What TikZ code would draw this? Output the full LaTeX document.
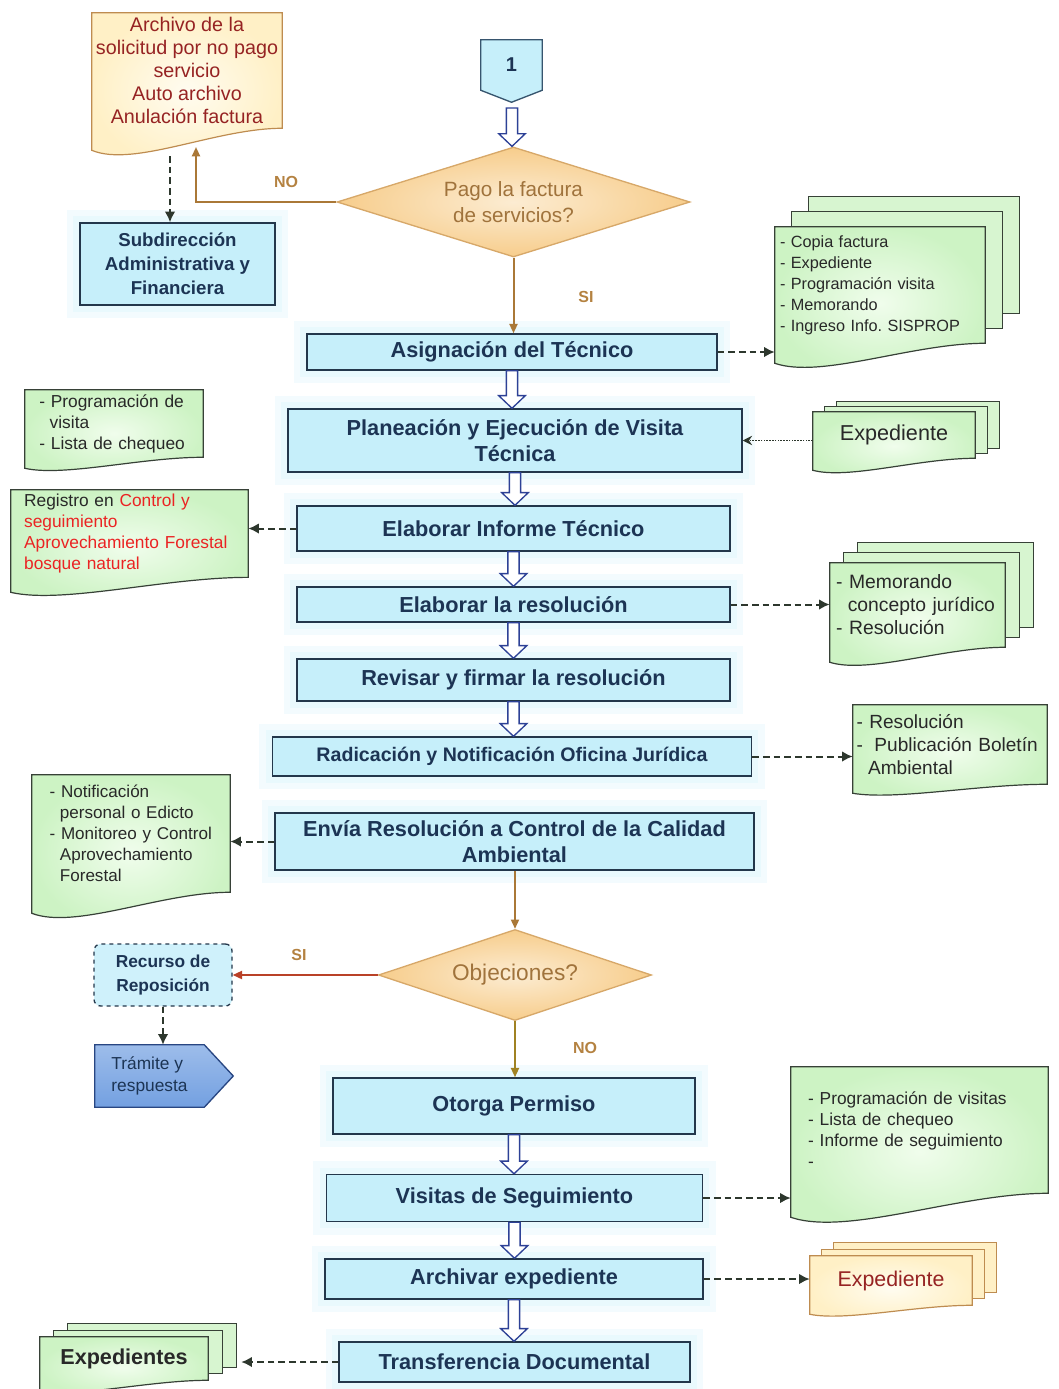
\documentclass[tikz,border=0pt]{standalone}
\usepackage{fontspec}
\setmainfont{Liberation Sans}
\usetikzlibrary{calc}
\usetikzlibrary{positioning}
\usetikzlibrary{arrows.meta}
\usetikzlibrary{shapes.geometric}
\usetikzlibrary{backgrounds}

\definecolor{procfill}{RGB}{198,239,250}
\definecolor{procline}{RGB}{35,55,75}
\definecolor{proctext}{RGB}{28,52,84}
\definecolor{procglow}{RGB}{228,247,252}
\definecolor{docgrn}{RGB}{205,243,196}
\definecolor{docgrnin}{RGB}{240,253,236}
\definecolor{docline}{RGB}{55,65,55}
\definecolor{doctxt}{RGB}{40,40,40}
\definecolor{docyel}{RGB}{255,240,198}
\definecolor{docyelin}{RGB}{255,252,240}
\definecolor{docbrown}{RGB}{190,140,80}
\definecolor{docred}{RGB}{150,35,35}
\definecolor{decfill}{RGB}{247,205,140}
\definecolor{decin}{RGB}{252,236,210}
\definecolor{decline}{RGB}{215,168,105}
\definecolor{dectext}{RGB}{160,115,60}
\definecolor{lblbrown}{RGB}{180,130,65}
\definecolor{arrbrown}{RGB}{170,120,55}
\definecolor{arrred}{RGB}{185,65,40}
\definecolor{arrolive}{RGB}{160,130,35}
\definecolor{hollowblue}{RGB}{45,65,150}
\definecolor{dashgray}{RGB}{45,55,45}
\definecolor{tramfill}{RGB}{115,160,225}
\definecolor{tramline}{RGB}{40,70,130}
\definecolor{txtred}{RGB}{235,35,35}
\definecolor{connline}{RGB}{55,85,110}

\tikzset{
  boxsize/.style 2 args={minimum width=#1*0.75pt, minimum height=#2*0.75pt},
  proc/.style={draw=procline, line width=1.1pt, fill=procfill, text=proctext,
    font=\bfseries\fontsize{16.3}{19}\selectfont, align=center, inner sep=2pt,
    preaction={draw=procglow!45, line width=20pt},
    preaction={draw=procglow!80, line width=10pt}},
  decision/.style={diamond, draw=decline, line width=1pt, inner sep=0pt,
    inner color=decin, outer color=decfill, text=dectext, align=center},
  doctext/.style={inner sep=3pt, align=left, text=doctxt,
    font=\fontsize{13}{15.75}\selectfont},
  docgreen/.style={draw=docline, line width=0.9pt, inner color=docgrnin, outer color=docgrn},
  docyellow/.style={draw=docbrown, line width=0.9pt, inner color=docyelin, outer color=docyel},
  backgreen/.style={draw=docline, line width=0.9pt, fill=docgrn!80!white},
  backyellow/.style={draw=docbrown, line width=0.9pt, fill=docyel},
  hollow/.style={draw=hollowblue, fill=white, line width=1pt},
  dasharrow/.style={draw=dashgray, line width=1.5pt, dash pattern=on 5pt off 3pt,
    -{Latex[length=8pt,width=8pt]}},
  dotarrow/.style={draw=dashgray, line width=1.1pt, densely dotted, -{Stealth[length=7pt,width=7pt]}},
  decarrow/.style={line width=1.5pt, -{Triangle[length=7pt,width=6pt]}},
  lbl/.style={font=\bfseries\fontsize{12}{14}\selectfont, inner sep=1pt},
}

% document page with wavy bottom round a node
\newcommand{\docpage}[3]{%
  \path[#3] (#1.north west) -- (#1.north east) -- (#1.south east)
    .. controls ($(#1.south east)!0.35!(#1.south west)$)
    and ($(#1.south east)!0.78!(#1.south west)+(0,1.8*#2)$)
    .. ($(#1.south west)+(0,#2)$) -- cycle;}
% two pages behind a document
\newcommand{\backpages}[4]{%
  \foreach \k in {2,1}{%
    \path[#4] ($(#1.north west)+(\k*#2,-\k*#3)$) rectangle ($(#1.south east)+(\k*#2,-\k*#3)$);}}
% hollow block arrow between two anchors
\newcommand{\hollowarrow}[2]{%
  \draw[hollow] let \p1=(#1), \p2=(#2) in
    (\x1-4.2pt,\y1) -- (\x1-4.2pt,\y2+9.5pt) -- (\x1-10pt,\y2+9.5pt) -- (\x1,\y2)
    -- (\x1+10pt,\y2+9.5pt) -- (\x1+4.2pt,\y2+9.5pt) -- (\x1+4.2pt,\y1) -- cycle;}

\begin{document}
\frenchspacing
\begin{tikzpicture}[%
  >={Stealth[scale=1.0]},
  x=0.75pt, y=-0.75pt,
]
  \useasboundingbox (0,0) rectangle (1058,1389);

  % top part
  \node[boxsize={61}{50}, text=proctext, font=\bfseries\fontsize{15}{18}\selectfont] (conn1) at (511.5,65) {1};
  \coordinate (conn1out) at (512,108);

  \node[decision, aspect=3.3, boxsize={353}{110}, font=\fontsize{15.5}{19}\selectfont] (dec1) at (513.5,202) {Pago la factura\\de servicios?};

  \node[doctext, align=center, text=docred, boxsize={188}{115},
    font=\fontsize{14.8}{17.3}\selectfont] (arch) at (187,70.5)
    {Archivo de la\\solicitud por no pago\\servicio\\Auto archivo\\Anulación factura};
  \coordinate (archin) at (196,147);
  \coordinate (archout) at (170,156);

  \node[proc, boxsize={195}{82}, font=\bfseries\fontsize{14}{18}\selectfont] (sub) at (177.5,264)
    {Subdirección\\Administrativa y\\Financiera};

  \node[proc, boxsize={410}{36}] (asig) at (512,352) {Asignación del Técnico};

  \node[doctext, text width=150pt, boxsize={210}{116}, font=\fontsize{12.2}{15.75}\selectfont] (copia) at (880,285)
    {- Copia factura\\- Expediente\\- Programación visita\\- Memorando\\- Ingreso Info. SISPROP};

  \node[proc, boxsize={454}{63}] (plan) at (515,440.5) {Planeación y Ejecución de Visita\\Técnica};

  \node[doctext, align=center, boxsize={162}{46}, font=\fontsize{16.2}{19}\selectfont] (expA) at (894,435) {Expediente};

  \node[doctext, text width=112pt, boxsize={178}{67}] (prog) at (114,423.5)
    {- Programación de\\\hspace*{0.6em}visita\\- Lista de chequeo};

  % middle part
  \node[proc, boxsize={433}{45}] (inf) at (513.5,528.5) {Elaborar Informe Técnico};

  \node[doctext, text width=158pt, boxsize={237}{87}] (reg) at (129.5,533.5)
    {Registro en \textcolor{txtred}{Control y}\\\textcolor{txtred}{seguimiento}\\
     \textcolor{txtred}{Aprovechamiento Forestal}\\\textcolor{txtred}{bosque natural}};

  \node[proc, boxsize={433}{35}] (res) at (513.5,604.5) {Elaborar la resolución};

  \node[doctext, text width=122pt, boxsize={175}{84}, font=\fontsize{14.5}{17.3}\selectfont] (memo) at (917.5,605)
    {- Memorando\\\hspace*{0.6em}concepto jurídico\\- Resolución};

  \node[proc, boxsize={433}{42}] (rev) at (513.5,680) {Revisar y firmar la resolución};

  \node[proc, boxsize={479}{39}, font=\bfseries\fontsize{14.7}{18}\selectfont] (rad) at (512,756.5)
    {Radicación y Notificación Oficina Jurídica};

  \node[doctext, text width=140pt, inner xsep=2pt, boxsize={194}{79}, font=\fontsize{14.3}{17.3}\selectfont] (resol) at (950,744.5)
    {- Resolución\\-\hspace{0.6em}Publicación Boletín\\\hspace*{0.6em}Ambiental};

  \node[proc, boxsize={479}{57}] (env) at (514.5,841.5) {Envía Resolución a Control de la Calidad\\Ambiental};

  \node[doctext, text width=122pt, boxsize={198}{117}, font=\fontsize{12.8}{15.75}\selectfont] (notif) at (131,833.5)
    {- Notificación\\\hspace*{0.6em}personal o Edicto\\- Monitoreo y Control\\\hspace*{0.6em}Aprovechamiento\\\hspace*{0.6em}Forestal};

  \node[decision, aspect=3.0, boxsize={273}{91}, font=\fontsize{17}{20}\selectfont] (dec2) at (515,975) {Objeciones?};

  \node[draw=procline, line width=1pt, dashed, rounded corners=5pt, fill=procfill!85!white,
    text=proctext, align=center, boxsize={138}{62}, font=\bfseries\fontsize{13}{18}\selectfont] (rec) at (163,975)
    {Recurso de\\Reposición};

  \node[align=left, boxsize={109}{62}, text=proctext, font=\fontsize{13}{17}\selectfont] (tram) at (149.5,1076)
    {Trámite y\\respuesta};

  % bottom part
  \node[proc, boxsize={362}{56}] (oto) at (514,1106) {Otorga Permiso};

  \node[doctext, text width=167pt, boxsize={257}{126}] (progv) at (919.5,1130)
    {- Programación de visitas\\- Lista de chequeo\\- Informe de seguimiento\\-\\[6pt]};

  \node[proc, boxsize={376}{47}] (vis) at (514.5,1198) {Visitas de Seguimiento};

  \node[proc, boxsize={378}{40}] (arc) at (514,1279) {Archivar expediente};

  \node[doctext, align=center, text=docred, boxsize={162}{49}, font=\fontsize{16}{19}\selectfont] (expY) at (891,1280.5) {Expediente};

  \node[proc, boxsize={351}{40}] (tra) at (514.5,1362) {Transferencia Documental};

  \node[doctext, align=center, boxsize={168}{43}, font=\bfseries\fontsize{16.2}{19}\selectfont] (exps) at (124,1358.5) {Expedientes};

  % labels
  \node[lbl, text=lblbrown] (noA) at (286,182) {NO};
  \node[lbl, text=lblbrown] (siA) at (586,297) {SI};
  \node[lbl, text=lblbrown] (siB) at (299,955) {SI};
  \node[lbl, text=lblbrown] (noB) at (585,1048) {NO};

  % connectors
  \hollowarrow{conn1out}{dec1.north}
  \draw[decarrow, arrbrown] (dec1.west) -| (archin);
  \draw[dasharrow] (archout) -- (archout |- sub.north);
  \draw[decarrow, arrbrown] (dec1.south) -- (dec1.south |- asig.north);
  \draw[dasharrow] (asig.east) -- (asig.east -| copia.west);
  \hollowarrow{asig.south}{plan.north}
  \draw[dotarrow] (plan.east -| expA.west) -- (plan.east);
  \hollowarrow{plan.south}{inf.north}
  \draw[dasharrow] (inf.west) -- (inf.west -| reg.east);
  \hollowarrow{inf.south}{res.north}
  \draw[dasharrow] (res.east) -- (res.east -| memo.west);
  \hollowarrow{res.south}{rev.north}
  \hollowarrow{rev.south}{rad.north}
  \draw[dasharrow] (rad.east) -- (rad.east -| resol.west);
  \draw[dasharrow] (env.west) -- (env.west -| notif.east);
  \draw[decarrow, arrbrown] (dec2.north |- env.south) -- (dec2.north);
  \draw[decarrow, arrred] (dec2.west) -- (dec2.west -| rec.east);
  \draw[dasharrow] (rec.south) -- (rec.south |- tram.north);
  \draw[decarrow, arrolive] (dec2.south) -- (dec2.south |- oto.north);
  \hollowarrow{oto.south}{vis.north}
  \draw[dasharrow] (vis.east) -- (vis.east -| progv.west);
  \hollowarrow{vis.south}{arc.north}
  \draw[dasharrow] (arc.east) -- (arc.east -| expY.west);
  \hollowarrow{arc.south}{tra.north}
  \draw[dasharrow] (tra.west) -- ($(tra.west -| exps.east)+(33,0)$);

  % shapes behind the texts
  \begin{pgfonlayer}{background}
    \path[draw=connline, line width=1pt, fill=procfill] (conn1.north west) -- (conn1.north east)
      -- (conn1.south east) -- ($(conn1.south)+(0,12)$) -- (conn1.south west) -- cycle;
    \path[draw=tramline, line width=1pt, top color=tramfill!70!white, bottom color=tramfill]
      (tram.north west) -- (tram.north east) -- ($(tram.east)+(29,0)$) -- (tram.south east)
      -- (tram.south west) -- cycle;
    \docpage{arch}{22}{docyellow}
    \backpages{copia}{17}{15}{backgreen}
    \docpage{copia}{20}{docgreen}
    \backpages{expA}{12}{5}{backgreen}
    \docpage{expA}{12}{docgreen}
    \docpage{prog}{11}{docgreen}
    \docpage{reg}{15}{docgreen}
    \backpages{memo}{14}{10}{backgreen}
    \docpage{memo}{15}{docgreen}
    \docpage{resol}{9}{docgreen}
    \docpage{notif}{21}{docgreen}
    \docpage{progv}{24}{docgreen}
    \backpages{expY}{12}{6.5}{backyellow}
    \docpage{expY}{9}{docyellow}
    \backpages{exps}{14}{6.5}{backgreen}
    \docpage{exps}{10}{docgreen}
  \end{pgfonlayer}

\end{tikzpicture}
\end{document}
